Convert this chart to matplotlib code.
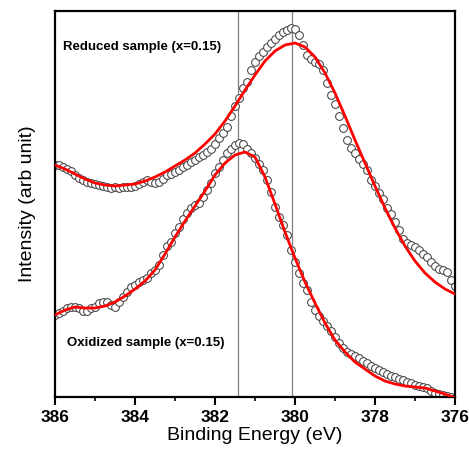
import matplotlib
matplotlib.use("Agg")
import matplotlib.pyplot as plt
import numpy as np

plt.rcParams['font.family'] = ['Liberation Sans', 'DejaVu Sans']

# measured points, 0.1 eV steps from 386 down to 376 eV
energy = np.linspace(386.0, 376.0, 101)

reduced = [232, 232, 230, 228, 226, 222, 219, 217, 215, 214,
           213, 212, 211, 210, 209, 210, 209, 210, 210, 210,
           211, 213, 215, 217, 215, 214, 215, 218, 222, 223,
           225, 227, 230, 232, 235, 237, 240, 242, 245, 248,
           253, 259, 264, 270, 281, 291, 299, 309, 315, 327,
           335, 341, 345, 350, 354, 358, 362, 365, 367, 369,
           368, 362, 352, 342, 338, 335, 333, 327, 314, 302,
           293, 281, 269, 257, 249, 244, 238, 233, 227, 217,
           211, 204, 198, 189, 183, 175, 167, 158, 154, 152,
           150, 147, 143, 140, 135, 131, 128, 127, 125, 117,
           111]

oxidized = [82, 84, 86, 89, 90, 90, 89, 86, 86, 89,
            90, 94, 95, 95, 92, 90, 95, 100, 105, 110,
            112, 115, 117, 119, 124, 127, 132, 142, 151, 155,
            164, 170, 178, 184, 189, 192, 194, 200, 207, 214,
            224, 230, 237, 244, 248, 252, 254, 253, 248, 244,
            239, 233, 227, 217, 205, 190, 180, 172, 162, 147,
            135, 124, 114, 107, 95, 87, 81, 76, 71, 66,
            60, 54, 49, 45, 43, 41, 39, 36, 34, 31,
            29, 27, 25, 23, 21, 20, 18, 17, 15, 14,
            12, 11, 10, 9, 6, 4, 3, 2, 1, 0,
            -1]

# fitted curves, 0.25 eV steps
fit_energy = np.linspace(386.0, 376.0, 41)

reduced_fit = [232, 228, 223, 218, 214, 212, 211, 212, 213, 216,
               220, 225, 231, 237, 244, 253, 263, 276, 291, 307,
               322, 336, 346, 352, 354, 350, 340, 324, 304, 281,
               257, 234, 211, 189, 169, 151, 136, 124, 115, 108,
               103]

oxidized_fit = [82, 87, 90, 89, 89, 91, 95, 101, 108, 116,
                127, 143, 160, 176, 191, 206, 222, 234, 242, 245,
                240, 220, 193, 165, 139, 115, 94, 74, 57, 45,
                35, 28, 21, 16, 13, 11, 10, 9, 6, 3,
                -1]

peak_lines = [381.42, 380.07]

fig = plt.figure(figsize=(4.69, 4.51), dpi=100)
ax = fig.add_axes([0.1173, 0.1197, 0.8528, 0.8559])

for e in peak_lines:
    ax.axvline(e, color='#7f7f7f', lw=0.9, zorder=1)

ax.plot(energy, reduced, 'o', mfc='white', mec='#444444', ms=5.6, mew=0.75, zorder=2)
ax.plot(energy, oxidized, 'o', mfc='white', mec='#444444', ms=5.6, mew=0.75, zorder=2)
ax.plot(fit_energy, reduced_fit, color='red', lw=2.0, zorder=3)
ax.plot(fit_energy, oxidized_fit, color='red', lw=2.0, zorder=3)

ax.set_xlim(386, 376)
ax.set_ylim(0, 386)
ax.set_xticks([386, 384, 382, 380, 378, 376])
ax.set_xticks([385, 383, 381, 379, 377], minor=True)
ax.set_yticks([])
ax.tick_params(axis='x', which='major', direction='out', length=6, width=1.5,
               labelsize=12.5, pad=3)
ax.tick_params(axis='x', which='minor', direction='out', length=3, width=1.2)
for lab in ax.get_xticklabels():
    lab.set_fontweight('bold')
for s in ax.spines.values():
    s.set_linewidth(1.6)

ax.set_xlabel('Binding Energy (eV)', fontsize=14, labelpad=2)
ax.set_ylabel('Intensity (arb unit)', fontsize=14, labelpad=14)

ax.text(385.8, 350, 'Reduced sample (x=0.15)', fontsize=9.5, fontweight='bold',
        ha='left', va='center')
ax.text(385.7, 54, 'Oxidized sample (x=0.15)', fontsize=9.5, fontweight='bold',
        ha='left', va='center')

fig.savefig('out.png', dpi=100)
